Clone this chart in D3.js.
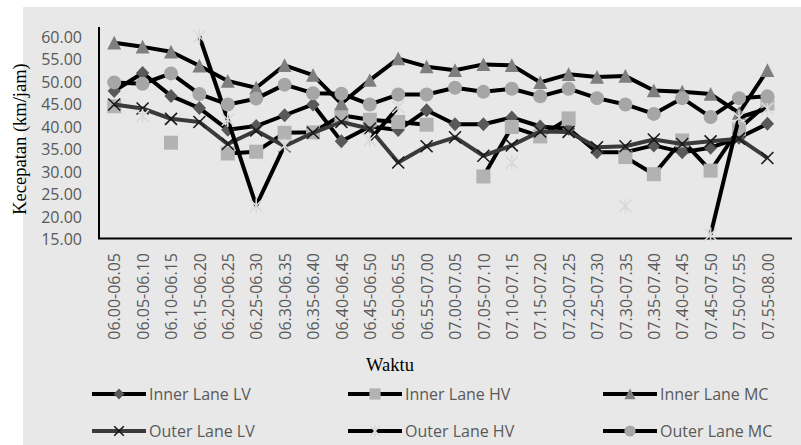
<!DOCTYPE html>
<html><head><meta charset="utf-8">
<script src="https://cdn.jsdelivr.net/npm/d3@7/dist/d3.min.js"></script>
<style>body{margin:0;background:#fff}svg{display:block}</style>
</head><body>
<svg id="c" width="801" height="445"></svg>
<script>
const categories = ["06.00-06.05","06.05-06.10","06.10-06.15","06.15-06.20","06.20-06.25","06.25-06.30","06.30-06.35","06.35-06.40","06.40-06.45","06.45-06.50","06.50-06.55","06.55-07.00","07.00-07.05","07.05-07.10","07.10-07.15","07.15-07.20","07.20-07.25","07.25-07.30","07.30-07.35","07.35-07.40","07.40-07.45","07.45-07.50","07.50-07.55","07.55-08.00"];
const innerLV = [47.9,51.9,46.8,44.1,39.3,40.1,42.5,44.9,36.7,40.0,39.2,43.6,40.5,40.5,42.0,40.0,39.5,34.3,34.3,35.8,34.3,35.3,37.5,40.6];
const innerHV = [44.5,null,36.4,null,34.0,34.4,38.6,38.7,42.5,41.5,41.0,40.4,null,28.9,39.9,37.8,41.8,null,33.2,29.4,36.9,30.2,39.5,45.1];
const innerMC = [58.6,57.7,56.6,53.5,50.1,48.6,53.6,51.4,45.1,50.3,55.1,53.3,52.5,53.8,53.6,49.8,51.6,51.0,51.2,48.0,47.7,47.2,43.0,52.5];
const outerLV = [44.9,44.0,41.7,41.0,36.1,39.1,35.6,38.6,41.0,39.5,32.0,35.6,37.6,33.5,35.8,38.9,38.8,35.4,35.6,37.1,36.1,36.7,37.3,33.0];
const outerHV = [null,42.3,null,60.0,41.5,22.4,35.8,null,null,37.0,44.3,null,null,null,32.0,null,null,null,22.3,null,null,16.0,42.0,44.0];
const outerMC = [49.8,49.5,51.8,47.2,44.9,46.2,49.3,47.4,47.3,44.9,47.1,47.1,48.6,47.7,48.4,46.7,48.4,46.3,44.9,42.8,46.3,42.1,46.3,46.7];
const yTicks = [15,20,25,30,35,40,45,50,55,60];
const seriesNames = ["Inner Lane LV","Inner Lane HV","Inner Lane MC","Outer Lane LV","Outer Lane HV","Outer Lane MC"];

const series = [
  {name:seriesNames[0], values:innerLV, marker:"diamond", fill:"#595959", line:"#000"},
  {name:seriesNames[1], values:innerHV, marker:"square", fill:"#b2b2b2", line:"#000"},
  {name:seriesNames[2], values:innerMC, marker:"triangle", fill:"#7f7f7f", line:"#000"},
  {name:seriesNames[3], values:outerLV, marker:"x", fill:"#1a1a1a", line:"#3a3a3a"},
  {name:seriesNames[4], values:outerHV, marker:"star", fill:"#d9d9d9", line:"#000"},
  {name:seriesNames[5], values:outerMC, marker:"circle", fill:"#a6a6a6", line:"#000"}
];

const svg = d3.select("#c");
svg.append("rect").attr("x",23).attr("y",7).attr("width",778).attr("height",438).attr("fill","#e8e8e8");

const x = d3.scalePoint().domain(categories).range([100,781.6]).padding(0.5);
const y = d3.scaleLinear().domain([15,60]).range([239,36.5]);

// axes
const yAxis = d3.axisLeft(y).tickValues(yTicks).tickFormat(d3.format(".2f")).tickSize(0).tickPadding(17);
const gy = svg.append("g").attr("transform","translate(99,0)").call(yAxis);
gy.select(".domain").remove();
gy.selectAll("text").attr("font-family","Open Sans").attr("font-size",16).attr("fill","#595959").attr("dy","0.36em");

const xAxis = d3.axisBottom(x).tickSize(0).tickPadding(0);
const gx = svg.append("g").attr("transform","translate(0,239)").call(xAxis);
gx.select(".domain").remove();
gx.selectAll("text").attr("font-family","Open Sans").attr("font-size",16).attr("fill","#595959")
  .attr("transform","rotate(-90)").attr("text-anchor","end").attr("x",-14).attr("y",0).attr("dy","0.36em");

svg.append("line").attr("x1",99).attr("x2",99).attr("y1",27).attr("y2",239).attr("stroke","#000").attr("stroke-width",2);
svg.append("line").attr("x1",98).attr("x2",792).attr("y1",238.5).attr("y2",238.5).attr("stroke","#000").attr("stroke-width",2);

// titles
svg.append("text").attr("x",390).attr("y",371).attr("text-anchor","middle").attr("font-family","Liberation Serif").attr("font-size",18.5).attr("fill","#000").text("Waktu");
svg.append("text").attr("transform","translate(26,139) rotate(-90)").attr("text-anchor","middle").attr("font-family","Liberation Serif").attr("font-size",18.5).attr("fill","#000").text("Kecepatan (km/jam)");

function drawMarker(g, type, cx, cy, s, fill){
  const h = 7*s;
  if(type==="diamond"){
    g.append("path").attr("d",`M${cx},${cy-h}L${cx+h*0.95},${cy}L${cx},${cy+h}L${cx-h*0.95},${cy}Z`).attr("fill",fill);
  } else if(type==="square"){
    g.append("rect").attr("x",cx-h).attr("y",cy-h).attr("width",2*h).attr("height",2*h).attr("fill",fill);
  } else if(type==="triangle"){
    g.append("path").attr("d",`M${cx},${cy-h}L${cx+h},${cy+h*0.95}L${cx-h},${cy+h*0.95}Z`).attr("fill",fill);
  } else if(type==="circle"){
    g.append("circle").attr("cx",cx).attr("cy",cy).attr("r",h).attr("fill",fill);
  } else if(type==="x"){
    const k=6*s;
    g.append("path").attr("d",`M${cx-k},${cy-k}L${cx+k},${cy+k}M${cx-k},${cy+k}L${cx+k},${cy-k}`).attr("stroke",fill).attr("stroke-width",1.6).attr("fill","none");
  } else if(type==="star"){
    const k=6*s;
    g.append("path").attr("d",`M${cx-k},${cy-k}L${cx+k},${cy+k}M${cx-k},${cy+k}L${cx+k},${cy-k}M${cx},${cy-k*1.2}L${cx},${cy+k*1.2}`).attr("stroke",fill).attr("stroke-width",1.6).attr("fill","none");
  }
}

const lineGen = d3.line().defined(d=>d.v!=null).x(d=>x(d.c)).y(d=>y(d.v));
series.forEach(s=>{
  const g = svg.append("g");
  const pts = categories.map((c,i)=>({c, v:s.values[i]}));
  g.append("path").attr("d",lineGen(pts)).attr("fill","none").attr("stroke",s.line).attr("stroke-width",4).attr("stroke-linejoin","round");
  pts.filter(p=>p.v!=null).forEach(p=>drawMarker(g,s.marker,x(p.c),y(p.v),1,s.fill));
});

// legend
const colX = [92,348,603], rowY = [394,431];
series.forEach((s,i)=>{
  const lx = colX[i%3], ly = rowY[Math.floor(i/3)];
  const g = svg.append("g");
  g.append("line").attr("x1",lx).attr("x2",lx+54).attr("y1",ly).attr("y2",ly).attr("stroke",s.line).attr("stroke-width",4);
  drawMarker(g,s.marker,lx+27,ly,0.8,s.fill);
  g.append("text").attr("x",lx+57).attr("y",ly).attr("dy","0.36em").attr("font-family","Open Sans").attr("font-size",16).attr("fill","#595959").text(s.name);
});
</script>
</body></html>
